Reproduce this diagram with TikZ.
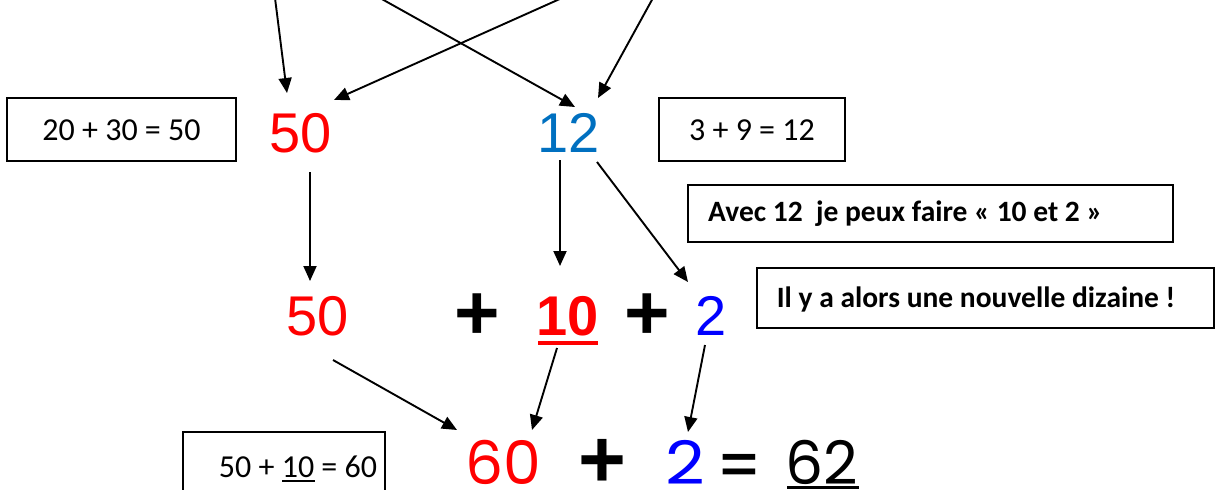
\documentclass[tikz,border=0pt]{standalone}
\usepackage{fontspec}
\setmainfont{Carlito}
\newfontfamily\arialf{Liberation Sans}
\newfontfamily\geof{Poppins}
\usetikzlibrary{arrows.meta}
\definecolor{myred}{HTML}{FF0000}
\definecolor{blueA}{HTML}{0070C0}
\definecolor{blueB}{HTML}{0000FF}
\begin{document}
\begin{tikzpicture}[x=1pt,y=-1pt,
  arr/.style={line width=1.9pt, -{Triangle[length=15pt,width=13pt]}},
  box/.style={draw, line width=1.3pt, inner sep=0pt},
  boxtext/.style={font=\fontsize{32}{36}\selectfont, inner sep=0pt},
  boldtext/.style={font=\bfseries\fontsize{29.5}{33}\selectfont, inner sep=0pt},
  big/.style={font=\arialf\fontsize{56}{60}\selectfont, inner sep=0pt},
  bigb/.style={font=\arialf\bfseries\fontsize{56}{60}\selectfont, inner sep=0pt},
  plus/.style={font=\arialf\bfseries\fontsize{78}{80}\selectfont, inner sep=0pt},
  geo/.style={font=\geof\fontsize{60}{64}\selectfont, inner sep=0pt, text depth=0pt}
]
\useasboundingbox (0,0) rectangle (1219,490);
\clip (0,0) rectangle (1219,490);

% boxes
\node[box, minimum width=229, minimum height=63] (b1) at (121.5,129.5) {};
\node[boxtext] (b1t) at (121.5,130) {20 + 30 = 50};
\node[box, minimum width=186, minimum height=63] (b2) at (752,129.5) {};
\node[boxtext] (b2t) at (752,130) {3 + 9 = 12};
\node[box, minimum width=485, minimum height=57] (b3) at (930.5,213.5) {};
\node[boldtext, anchor=west] (b3t) at (708,214) {Avec 12\ \ je peux faire « 10 et 2 »};
\node[box, minimum width=457, minimum height=60] (b4) at (985.5,298) {};
\node[boldtext] (b4t) at (976,299) {Il y a alors une nouvelle dizaine !};
\node[box, minimum width=202, minimum height=70] (b5) at (284,467) {};
\node[boxtext] (b5t) at (298,467) {50 + 10 = 60};
\draw[line width=1.8pt] (282,481) -- (315,481);

% row 1
\node[big, text=myred] (r1a) at (301,133) {50};
\node[big, text=blueA] (r1b) at (569,133) {12};

% row 2
\node[big, text=myred] (r2a) at (318,316) {50};
\node[plus] (p1) at (477,317) {+};
\node[bigb, text=myred] (r2b) at (568,316) {10};
\draw[myred, line width=4pt] (538,343) -- (598,343);
\node[plus] (p2) at (647,317) {+};
\node[big, text=blueB] (r2c) at (711,316) {2};

% row 3
\node[geo, text=myred] (r3a) at (503,462) {60};
\node[font=\arialf\bfseries\fontsize{82}{84}\selectfont, inner sep=0pt] (p3) at (602,463) {+};
\node[geo, text=blueB] (r3b) at (685,462) {\scalebox{1.15}[1]{2}};
\node[font=\arialf\bfseries\fontsize{54}{58}\selectfont, inner sep=0pt, anchor=base] (eq) at (739,482) {\scalebox{1.2}[1]{=}};
\node[geo] (r3c) at (822,462) {62};
\draw[line width=3pt] (787,487) -- (859,487);

% coordinates for arrows
\coordinate (t1) at (275,-2);
\coordinate (t2) at (380,-2);
\coordinate (t3) at (562,-2);
\coordinate (t4) at (653,-2);
\coordinate (e1) at (287,93);
\coordinate (e2) at (575,107);
\coordinate (e3) at (334,100);
\coordinate (e4) at (598,98);
\coordinate (s5) at (310,172);
\coordinate (e5) at (310,281);
\coordinate (s6) at (560,160);
\coordinate (e6) at (560,266);
\coordinate (s7) at (597,162);
\coordinate (e7) at (688,282);
\coordinate (s8) at (333,360);
\coordinate (e8) at (457,430);
\coordinate (s9) at (557,348);
\coordinate (e9) at (532,430);
\coordinate (s10) at (705,345);
\coordinate (e10) at (688,432);

\draw[arr] (t1) -- (e1);
\draw[arr] (t2) -- (e2);
\draw[arr] (t3) -- (e3);
\draw[arr] (t4) -- (e4);
\draw[arr] (s5) -- (e5);
\draw[arr] (s6) -- (e6);
\draw[arr] (s7) -- (e7);
\draw[arr] (s8) -- (e8);
\draw[arr] (s9) -- (e9);
\draw[arr] (s10) -- (e10);
\end{tikzpicture}
\end{document}
